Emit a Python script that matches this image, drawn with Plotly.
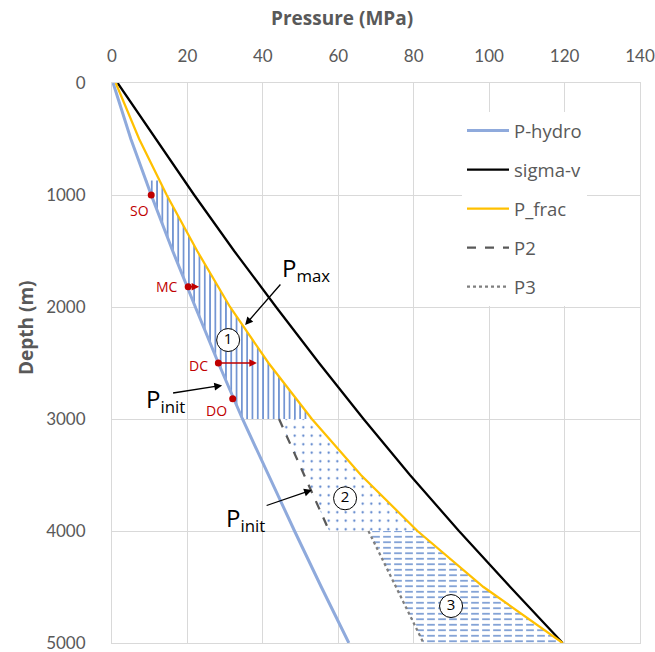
import numpy as np
import plotly.graph_objects as go

# ---------------- data ----------------
depth = [0, 500, 1000, 1500, 2000, 2500, 3000, 3500, 4000, 4500, 5000]
p_hydro = [0.3, 5.0, 10.4, 16.1, 22.1, 28.2, 34.6, 41.4, 48.4, 55.5, 62.8]
sigma_v = [1.5, 11.6, 21.8, 32.4, 43.5, 54.9, 66.7, 79.0, 92.0, 105.6, 119.5]
p_frac = [1.0, 7.2, 14.5, 22.6, 31.3, 41.5, 53.0, 66.0, 81.0, 98.5, 119.5]

p2_depth = [3000, 4000]
p2 = [44.3, 57.6]
p3_depth = [4000, 5000]
p3 = [68.0, 82.6]

# stimulation stages: (top depth, bottom depth)
stage1 = (870, 3000)
stage2 = (3000, 4000)
stage3 = (4000, 5000)

pt_names = ["SO", "MC", "DC", "DO"]
pt_p = [10.4, 20.2, 28.2, 32.0]
pt_d = [1000, 1820, 2500, 2820]

x_ticks = [0, 20, 40, 60, 80, 100, 120, 140]
y_ticks = [0, 1000, 2000, 3000, 4000, 5000]

GRAY = "#595959"
GRID = "#D9D9D9"
RED = "#C00000"
HATCH = "#4472C4"
FONT = "Lato"


def band(d0, d1, left_d, left_p):
    ds = [d0] + [d for d in depth if d0 < d < d1] + [d1]
    right = np.interp(ds, depth, p_frac)
    left = np.interp(ds, left_d, left_p)
    xs = list(right) + list(left[::-1]) + [right[0]]
    ys = ds + ds[::-1] + [ds[0]]
    return xs, ys


fig = go.Figure()

# stage 1 : vertical hatch
x1, y1 = band(stage1[0], stage1[1], depth, p_hydro)
fig.add_trace(go.Scatter(x=x1, y=y1, mode="lines", line=dict(width=0), fill="toself",
                         fillpattern=dict(shape="|", size=5.3, solidity=0.25, fgcolor=HATCH,
                                          bgcolor="white", fillmode="replace"),
                         showlegend=False, hoverinfo="skip"))
# stage 2 : dots
x2, y2 = band(stage2[0], stage2[1], p2_depth, p2)
fig.add_trace(go.Scatter(x=x2, y=y2, mode="lines", line=dict(width=0), fill="toself",
                         fillpattern=dict(shape=".", size=8.5, solidity=0.05, fgcolor=HATCH,
                                          bgcolor="white", fillmode="replace"),
                         showlegend=False, hoverinfo="skip"))
# stage 3 : dashes
x3, y3 = band(stage3[0], stage3[1], p3_depth, p3)
fig.add_trace(go.Scatter(x=x3, y=y3, mode="lines", line=dict(width=0), fill="toself",
                         fillpattern=dict(shape="-", size=5.5, solidity=0.25, fgcolor="#5B84C9",
                                          bgcolor="white", fillmode="replace"),
                         showlegend=False, hoverinfo="skip"))
fig.add_trace(go.Scatter(x=x3, y=y3, mode="lines", line=dict(width=0), fill="toself",
                         fillpattern=dict(shape="|", size=11, solidity=0.3, fgcolor="white",
                                          bgcolor="rgba(0,0,0,0)", fillmode="replace"),
                         showlegend=False, hoverinfo="skip"))

# lines
fig.add_trace(go.Scatter(x=p_hydro, y=depth, mode="lines", name="P-hydro",
                         line=dict(color="#8FAADC", width=3), legendgroup="a"))
fig.add_trace(go.Scatter(x=sigma_v, y=depth, mode="lines", name="sigma-v",
                         line=dict(color="black", width=2.25), legendgroup="b"))
fig.add_trace(go.Scatter(x=p_frac, y=depth, mode="lines", name="P_frac",
                         line=dict(color="#FFC000", width=2.25), legendgroup="c"))
fig.add_trace(go.Scatter(x=p2, y=p2_depth, mode="lines", name="P2",
                         line=dict(color=GRAY, width=2.25, dash="dash"), legendgroup="d"))
fig.add_trace(go.Scatter(x=p3, y=p3_depth, mode="lines", name="P3",
                         line=dict(color="#7F7F7F", width=2.25, dash="dot"), legendgroup="e"))

# red points
fig.add_trace(go.Scatter(x=pt_p, y=pt_d, mode="markers", marker=dict(color=RED, size=7),
                         showlegend=False, hoverinfo="skip"))

# circled stage numbers
fig.add_trace(go.Scatter(x=[30.8, 61.8, 89.9], y=[2295, 3708, 4670], mode="markers+text",
                         text=["1", "2", "3"], textposition="middle center",
                         textfont=dict(size=15, color="black", family="Open Sans"),
                         marker=dict(size=23, color="white", line=dict(color="black", width=1)),
                         showlegend=False, hoverinfo="skip"))

ann = []
# axis titles
ann.append(dict(text="<b>Pressure (MPa)</b>", xref="paper", yref="paper",
                x=(342 - 112) / 528, y=(643 - 18) / 560, xanchor="center", yanchor="middle",
                showarrow=False, font=dict(size=19, color=GRAY, family="Open Sans")))
ann.append(dict(text="<b>Depth (m)</b>", xref="paper", yref="paper",
                x=(26 - 112) / 528, y=(643 - 328) / 560, xanchor="center", yanchor="middle",
                showarrow=False, textangle=-90,
                font=dict(size=19, color=GRAY, family="Open Sans")))

# point labels
lab_pos = {"SO": (7.4, 1134), "MC": (14.5, 1819), "DC": (23.0, 2518), "DO": (27.6, 2920)}
for n in pt_names:
    lx, ly = lab_pos[n]
    ann.append(dict(text=n, x=lx, y=ly, xref="x", yref="y", showarrow=False,
                    font=dict(size=14, color=RED, family="Open Sans")))

# red arrows
ann.append(dict(x=23.1, y=1820, ax=20.2, ay=1820, xref="x", yref="y", axref="x", ayref="y",
                text="", showarrow=True, arrowhead=2, arrowsize=1, arrowwidth=1.5, arrowcolor=RED))
ann.append(dict(x=38.4, y=2500, ax=28.2, ay=2500, xref="x", yref="y", axref="x", ayref="y",
                text="", showarrow=True, arrowhead=2, arrowsize=1, arrowwidth=1.5, arrowcolor=RED))

# Pmax / Pinit labels and arrows
big = dict(size=24, color="black", family="Open Sans")
ann.append(dict(text="P<sub>max</sub>", x=51.5, y=1660, xref="x", yref="y", showarrow=False, font=big))
ann.append(dict(x=35.3, y=2161, ax=45.0, ay=1786, xref="x", yref="y", axref="x", ayref="y",
                text="", showarrow=True, arrowhead=2, arrowsize=1.2, arrowwidth=1.3, arrowcolor="black"))
ann.append(dict(text="P<sub>init</sub>", x=14.3, y=2830, xref="x", yref="y", showarrow=False, font=big))
ann.append(dict(x=29.2, y=2700, ax=15.8, ay=2770, xref="x", yref="y", axref="x", ayref="y",
                text="", showarrow=True, arrowhead=2, arrowsize=1.2, arrowwidth=1.3, arrowcolor="black"))
ann.append(dict(text="P<sub>init</sub>", x=35.3, y=3890, xref="x", yref="y", showarrow=False, font=big))
ann.append(dict(x=53.0, y=3634, ax=40.6, ay=3777, xref="x", yref="y", axref="x", ayref="y",
                text="", showarrow=True, arrowhead=2, arrowsize=1.2, arrowwidth=1.3, arrowcolor="black"))

fig.update_layout(
    width=655, height=652,
    margin=dict(l=112, r=15, t=83, b=9, autoexpand=False),
    plot_bgcolor="white", paper_bgcolor="white",
    font=dict(family=FONT, color=GRAY),
    annotations=ann,
    legend=dict(x=(462 - 112) / 528, y=(643 - 112) / 560, xanchor="left", yanchor="top",
                bgcolor="white", font=dict(size=18.5, color=GRAY, family="Open Sans"),
                traceorder="grouped", tracegroupgap=12, itemwidth=42),
)
fig.update_xaxes(side="top", range=[0, 140], tickvals=x_ticks, showgrid=True, gridcolor=GRID,
                 gridwidth=1, zeroline=False, showline=True, linecolor=GRID, mirror=True,
                 automargin=False, ticks="", ticklabelstandoff=13, ticklabeloverflow="allow",
                 tickfont=dict(size=17, color=GRAY, family=FONT))
fig.update_yaxes(range=[5000, 0], tickvals=y_ticks, showgrid=True, gridcolor=GRID,
                 gridwidth=1, zeroline=False, showline=True, linecolor=GRID, mirror=True,
                 automargin=False, ticks="", ticklabelstandoff=22, ticklabeloverflow="allow",
                 tickfont=dict(size=17, color=GRAY, family=FONT))

fig.write_html("out.html", config={"displayModeBar": False},
               post_script="document.body.style.margin='0px';document.body.style.overflow='hidden';")
